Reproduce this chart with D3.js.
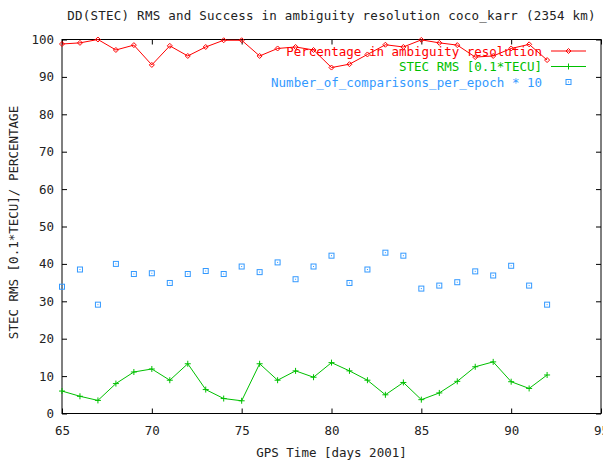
<!DOCTYPE html>
<html><head><meta charset="utf-8">
<script src="https://cdn.jsdelivr.net/npm/d3@7"></script>
<style>
body{margin:0;background:#fff;}
text{font-family:"DejaVu Sans Mono",monospace;font-size:12.5px;}
</style></head><body>
<svg id="c" width="603" height="464"></svg>
<script>
const days = [65,66,67,68,69,70,71,72,73,74,75,76,77,78,79,80,81,82,83,84,85,86,87,88,89,90,91,92];
const percentage = [98.8,99.1,100,97.2,98.5,93.2,98.3,95.6,98.0,99.8,99.8,95.6,97.6,98.0,97.2,92.5,93.4,96.0,98.6,98.0,99.9,99.1,98.5,95.3,95.6,97.6,98.7,94.5];
const stecRms = [6.0,4.6,3.5,8.0,11.1,11.9,8.9,13.3,6.4,4.0,3.4,13.3,8.9,11.4,9.7,13.6,11.4,8.9,5.0,8.3,3.7,5.5,8.6,12.5,13.8,8.5,6.7,10.3];
const comparisons = [33.9,38.5,29.1,40.0,37.3,37.5,34.9,37.3,38.1,37.3,39.3,37.8,40.4,35.9,39.3,42.2,34.9,38.5,43.0,42.2,33.4,34.2,35.1,38.0,36.9,39.5,34.2,29.1];
const xTicks = [65,70,75,80,85,90,95];
const yTicks = [0,10,20,30,40,50,60,70,80,90,100];
const titleText = "DD(STEC) RMS and Success in ambiguity resolution coco_karr (2354 km)";
const xLabel = "GPS Time [days 2001]";
const yLabel = "STEC RMS [0.1*TECU]/ PERCENTAGE";
const seriesNames = ["Percentage in ambiguity resolution","STEC RMS [0.1*TECU]","Number_of_comparisons_per_epoch * 10"];
const colors = ["#ff0000","#00c000","#3399ff"];

const svg = d3.select("#c");
const L=62, R=601, T=39.5, B=413.5;
const x = d3.scaleLinear().domain([65,95]).range([L,R]);
const y = d3.scaleLinear().domain([0,100]).range([B,T]);

// axes with inward ticks
const gx = svg.append("g").attr("transform",`translate(0,${B})`)
  .call(d3.axisBottom(x).tickValues(xTicks).tickSizeInner(-5).tickSizeOuter(0).tickPadding(13));
const gy = svg.append("g").attr("transform",`translate(${L},0)`)
  .call(d3.axisLeft(y).tickValues(yTicks).tickSizeInner(-5).tickSizeOuter(0).tickPadding(8));
const gt = svg.append("g").attr("transform",`translate(0,${T})`)
  .call(d3.axisTop(x).tickValues(xTicks).tickSizeInner(-5).tickSizeOuter(0).tickFormat(""));
const gr = svg.append("g").attr("transform",`translate(${R},0)`)
  .call(d3.axisRight(y).tickValues(yTicks).tickSizeInner(-5).tickSizeOuter(0).tickFormat(""));
[gx,gy,gt,gr].forEach(g=>{
  g.select(".domain").remove();
  g.selectAll("line").attr("stroke","#000");
  g.selectAll("text").attr("fill","#222").style("font-family","'DejaVu Sans Mono',monospace").style("font-size","12.5px");
});
svg.append("rect").attr("x",L).attr("y",T).attr("width",R-L).attr("height",B-T)
  .attr("fill","none").attr("stroke","#000").attr("stroke-width",1);

// title & labels
svg.append("text").attr("x",(L+R)/2).attr("y",20).attr("text-anchor","middle").attr("fill","#222")
  .style("letter-spacing","0.25px").text(titleText);
svg.append("text").attr("x",(L+R)/2).attr("y",457).attr("text-anchor","middle").attr("fill","#222").text(xLabel);
svg.append("text").attr("transform","translate(17.5,222.5) rotate(-90)").attr("text-anchor","middle")
  .attr("fill","#222").text(yLabel);

const line = d3.line().x((d,i)=>x(days[i])).y(d=>y(d));
// red
svg.append("path").datum(percentage).attr("d",line).attr("fill","none").attr("stroke",colors[0]).attr("stroke-width",1);
const diamond = (g,cx,cy,c)=>g.append("path").attr("d",`M${cx-2.5},${cy}L${cx},${cy-2.5}L${cx+2.5},${cy}L${cx},${cy+2.5}Z`)
  .attr("fill","none").attr("stroke",c).attr("stroke-width",1);
const plus = (g,cx,cy,c)=>g.append("path").attr("d",`M${cx-3},${cy}H${cx+3}M${cx},${cy-3}V${cy+3}`)
  .attr("fill","none").attr("stroke",c).attr("stroke-width",1);
const box = (g,cx,cy,c)=>{g.append("rect").attr("x",cx-2.5).attr("y",cy-2.5).attr("width",5).attr("height",5)
  .attr("fill","none").attr("stroke",c).attr("stroke-width",1);
  g.append("rect").attr("x",cx-0.5).attr("y",cy-0.5).attr("width",1).attr("height",1).attr("fill",c);};
const gm = svg.append("g");
percentage.forEach((v,i)=>diamond(gm,x(days[i]),y(v),colors[0]));
// green
svg.append("path").datum(stecRms).attr("d",line).attr("fill","none").attr("stroke",colors[1]).attr("stroke-width",1);
stecRms.forEach((v,i)=>plus(gm,x(days[i]),y(v),colors[1]));
// blue points
comparisons.forEach((v,i)=>box(gm,x(days[i]),y(v),colors[2]));

// legend
const rows=[51,66.5,82];
seriesNames.forEach((n,i)=>{
  svg.append("text").attr("x",542).attr("y",rows[i]+4.5).attr("text-anchor","end").attr("fill",colors[i]).text(n);
});
svg.append("line").attr("x1",551).attr("x2",586).attr("y1",rows[0]).attr("y2",rows[0]).attr("stroke",colors[0]);
diamond(svg,568.5,rows[0],colors[0]);
svg.append("line").attr("x1",551).attr("x2",586).attr("y1",rows[1]).attr("y2",rows[1]).attr("stroke",colors[1]);
plus(svg,568.5,rows[1],colors[1]);
box(svg,568.5,rows[2],colors[2]);
</script></body></html>
